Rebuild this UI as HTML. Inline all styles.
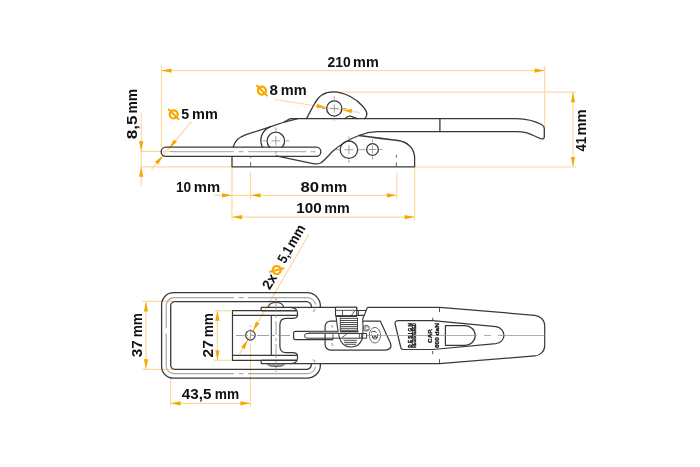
<!DOCTYPE html>
<html><head><meta charset="utf-8">
<style>
html,body{margin:0;padding:0;background:#fff;}
body{width:700px;height:467px;overflow:hidden;}
svg{display:block;will-change:transform;}
text{font-family:"Liberation Sans",sans-serif;font-weight:bold;fill:#111;}
</style></head><body>
<svg width="700" height="467" viewBox="0 0 700 467">

<!-- ============ ORANGE DIMENSION LINES (side view) ============ -->
<g stroke="#fcd9a2" stroke-width="1.2" fill="none">
 <!-- 210 -->
 <line x1="161.5" y1="66" x2="161.5" y2="147"/>
 <line x1="161.5" y1="70.6" x2="544.6" y2="70.6"/>
 <line x1="544.6" y1="66" x2="544.6" y2="128"/>
 <!-- 41 -->
 <line x1="333" y1="92.2" x2="576.5" y2="92.2"/>
 <line x1="414.6" y1="167" x2="576.5" y2="167"/>
 <line x1="573" y1="92.2" x2="573" y2="167"/>
 <!-- 8,5 -->
 <line x1="140" y1="151.3" x2="175" y2="151.3"/>
 <line x1="140" y1="166.8" x2="232" y2="166.8"/>
 <line x1="141.2" y1="112.5" x2="141.2" y2="185.5"/>
 <!-- 5 mm leader -->
 <line x1="191.5" y1="121.5" x2="151.5" y2="169.3"/>
 <!-- 8 mm leader -->
 <line x1="274.5" y1="99.5" x2="360" y2="112.6"/>
 <!-- 10/80/100 -->
 <line x1="232" y1="167" x2="232" y2="220.5"/>
 <line x1="250.5" y1="172" x2="250.5" y2="199.5"/>
 <line x1="396.8" y1="172.5" x2="396.8" y2="198.5"/>
 <line x1="414.6" y1="167" x2="414.6" y2="220.5"/>
 <line x1="214" y1="195.3" x2="396.8" y2="195.3"/>
 <line x1="232" y1="217.1" x2="414.6" y2="217.1"/>
</g>
<g>
 <path d="M0,0 L-10,-2.1 L-10,2.1 Z" fill="#f6a800" transform="translate(544.6,70.6)"/>
 <path d="M0,0 L-10,-2.1 L-10,2.1 Z" fill="#f6a800" transform="translate(161.5,70.6) rotate(180)"/>
 <path d="M0,0 L-10,-2.1 L-10,2.1 Z" fill="#f6a800" transform="translate(573,92.2) rotate(-90)"/>
 <path d="M0,0 L-10,-2.1 L-10,2.1 Z" fill="#f6a800" transform="translate(573,167) rotate(90)"/>
 <path d="M0,0 L-10,-2.1 L-10,2.1 Z" fill="#f6a800" transform="translate(141.2,151.3) rotate(90)"/>
 <path d="M0,0 L-10,-2.1 L-10,2.1 Z" fill="#f6a800" transform="translate(141.2,166.8) rotate(-90)"/>
 <path d="M0,0 L-10,-2.1 L-10,2.1 Z" fill="#f6a800" transform="translate(232,195.3)"/>
 <path d="M0,0 L-10,-2.1 L-10,2.1 Z" fill="#f6a800" transform="translate(250.5,195.3) rotate(180)"/>
 <path d="M0,0 L-10,-2.1 L-10,2.1 Z" fill="#f6a800" transform="translate(396.8,195.3)"/>
 <path d="M0,0 L-10,-2.1 L-10,2.1 Z" fill="#f6a800" transform="translate(232,217.1) rotate(180)"/>
 <path d="M0,0 L-10,-2.1 L-10,2.1 Z" fill="#f6a800" transform="translate(414.6,217.1)"/>
 <path d="M0,0 L-10,-2.1 L-10,2.1 Z" fill="#f6a800" transform="translate(169,148.4) rotate(129.9)"/>
 <path d="M0,0 L-10,-2.1 L-10,2.1 Z" fill="#f6a800" transform="translate(163.05,155.5) rotate(-50.1)"/>
 <path d="M0,0 L-10,-2.1 L-10,2.1 Z" fill="#f6a800" transform="translate(326.6,107.4) rotate(8.7)"/>
 <path d="M0,0 L-10,-2.1 L-10,2.1 Z" fill="#f6a800" transform="translate(342,109.7) rotate(188.7)"/>
</g>

<!-- ============ SIDE VIEW DRAWING ============ -->
<g stroke="#383838" stroke-width="1.3" fill="none" stroke-linejoin="round" stroke-linecap="round">
 <!-- rod -->
 <path d="M165.8,147.1 H316.2 A4.65,4.65 0 0 1 316.2,156.4 H165.8 A4.65,4.65 0 0 1 165.8,147.1 Z"/>
 <!-- base plate -->
 <path d="M232,156.4 V166.8 H414.6 V157 C414,148 407,141.5 398,140.5 C385,139 370,137 359,135.5"/>
 <!-- hook body left -->
 <path d="M233.2,147.1 C235,140 239,137.5 246,134.7 L270,126.8 L283,122.5 C286.5,121 288.5,118.9 291,118.6"/>
 <path d="M284.3,122.2 L297.9,118.6"/>
 <!-- pivot boss -->
 <path d="M262.4,147.1 A14.8,14.8 0 0 1 270,126.8"/>
 <path d="M269.65,147.1 A8.75,8.75 0 1 1 282.05,147.1"/>
 <!-- lever -->
 <path d="M291,118.6 H516 C526,118.8 536,121.5 541.5,124.5 C543.5,125.6 544.3,126.8 544.3,128.5 V137 C544.3,138.5 543,139.2 541.5,138.8 C538,138 533,135 527,132.8 C523,131.8 520,131.6 516,131.6 H377 C370,131.8 364,133.5 359,135.5 C348,139.5 340,145 333,151 C328,156 324,161 320.5,163 C318.5,164.2 316.5,164.3 313,163.6 L276.2,155.9"/>
 <path d="M439.9,118.6 V131.6"/>
 <!-- top link -->
 <path d="M306.5,118.6 L314,104.5 C317,98.5 323,91.8 333,91.8 C345,91.8 357,99.5 363,106.5 C366,110 367,112.5 366.8,114.5 C366.6,116.5 365.5,118 364.6,118.6"/>
 <circle cx="334.3" cy="108.5" r="7.6"/>
 <path d="M344.7,118.6 C346.5,117.5 348,116.1 349.5,116.1 C352,116.1 354.5,118 357.6,118.6"/>
 <!-- lower circles -->
 <circle cx="348.9" cy="149.7" r="8.7"/>
 <circle cx="372.5" cy="149.5" r="5.85"/>
</g>
<!-- centerlines side view -->
<g stroke="#8c8c8c" stroke-width="0.8" fill="none">
 <path d="M170,151.7 H233.8 M238.7,151.7 H243.5 M248,151.7 H306.5 M310.5,151.7 H315.5"/>
 <path d="M271.25,140.85 H280.45 M275.85,136.25 V145.45 M285.90,140.85 L289.20,140.85 M265.80,140.85 L262.50,140.85 M275.85,150.90 L275.85,154.20 M275.85,130.80 L275.85,127.50 M330.10,108.5 H338.50 M334.3,104.30 V112.70 M343.20,108.50 L346.50,108.50 M325.40,108.50 L322.10,108.50 M334.30,117.40 L334.30,120.70 M334.30,99.60 L334.30,96.30 M344.30,149.7 H353.50 M348.9,145.10 V154.30 M358.90,149.70 L362.20,149.70 M338.90,149.70 L335.60,149.70 M348.90,159.70 L348.90,163.00 M348.90,139.70 L348.90,136.40 M368.70,149.5 H376.30 M372.5,145.70 V153.30 M379.55,149.50 L382.55,149.50 M365.45,149.50 L362.45,149.50 M372.50,156.55 L372.50,159.55 M372.50,142.45 L372.50,139.45"/>
</g>
<g stroke="#555" stroke-width="0.9" fill="none" stroke-dasharray="5,3,1,3">
 <path d="M250.6,156.3 V158 M250.6,162.2 V167"/>
 <path d="M396.4,154.9 V157.8 M396.4,162.4 V167"/>
</g>

<!-- labels side view -->
<g transform="translate(173.7,114.4)">
 <circle cx="0" cy="0" r="3.95" fill="none" stroke="#f8a900" stroke-width="2.3"/>
 <line x1="-4.9" y1="-4.9" x2="4.9" y2="4.9" stroke="#f8a900" stroke-width="2" stroke-linecap="round"/>
</g>
<g transform="translate(261.9,90.6)">
 <circle cx="0" cy="0" r="3.95" fill="none" stroke="#f8a900" stroke-width="2.3"/>
 <line x1="-4.9" y1="-4.9" x2="4.9" y2="4.9" stroke="#f8a900" stroke-width="2" stroke-linecap="round"/>
</g>

<!-- ============ PLAN VIEW: dimensions ============ -->
<g stroke="#fcd9a2" stroke-width="1.2" fill="none">
 <line x1="142.5" y1="301.4" x2="174.6" y2="301.4"/>
 <line x1="142.5" y1="369.3" x2="174.6" y2="369.3"/>
 <line x1="146" y1="301.4" x2="146" y2="369.3"/>
 <line x1="214.5" y1="310.7" x2="232.5" y2="310.7"/>
 <line x1="214.5" y1="360.3" x2="232.5" y2="360.3"/>
 <line x1="217.4" y1="310.7" x2="217.4" y2="360.3"/>
 <line x1="170.6" y1="378.5" x2="170.6" y2="406.5"/>
 <line x1="250.4" y1="344" x2="250.4" y2="406.5"/>
 <line x1="170.6" y1="403.3" x2="250.4" y2="403.3"/>
 <line x1="308.8" y1="234.45" x2="239.5" y2="354.1"/>
</g>
<g>
 <path d="M0,0 L-10,-2.1 L-10,2.1 Z" fill="#f6a800" transform="translate(146,301.4) rotate(-90)"/>
 <path d="M0,0 L-10,-2.1 L-10,2.1 Z" fill="#f6a800" transform="translate(146,369.3) rotate(90)"/>
 <path d="M0,0 L-10,-2.1 L-10,2.1 Z" fill="#f6a800" transform="translate(217.4,310.7) rotate(-90)"/>
 <path d="M0,0 L-10,-2.1 L-10,2.1 Z" fill="#f6a800" transform="translate(217.4,360.3) rotate(90)"/>
 <path d="M0,0 L-10,-2.1 L-10,2.1 Z" fill="#f6a800" transform="translate(170.6,403.3) rotate(180)"/>
 <path d="M0,0 L-10,-2.1 L-10,2.1 Z" fill="#f6a800" transform="translate(250.4,403.3)"/>
 <path d="M0,0 L-10,-2.1 L-10,2.1 Z" fill="#f6a800" transform="translate(252.8,331.15) rotate(120.07)"/>
 <path d="M0,0 L-10,-2.1 L-10,2.1 Z" fill="#f6a800" transform="translate(248,339.45) rotate(-59.93)"/>
</g>
<g transform="translate(269.8,290.6) rotate(-60)">
 <text x="0" y="0" font-size="14" textLength="15.5" lengthAdjust="spacingAndGlyphs">2x</text>
 <g transform="translate(21.3,-4.3)">
 <circle cx="0" cy="0" r="3.95" fill="none" stroke="#f8a900" stroke-width="2.3"/>
 <line x1="-4.9" y1="-4.9" x2="4.9" y2="4.9" stroke="#f8a900" stroke-width="2" stroke-linecap="round"/>
</g>
 <text x="30.4" y="0" font-size="14" textLength="17" lengthAdjust="spacingAndGlyphs">5,1</text>
 <text x="48.5" y="0" font-size="14" textLength="23.7" lengthAdjust="spacingAndGlyphs">mm</text>
</g>

<!-- dimension labels -->
<text x="327.48" y="66.6" font-size="14" textLength="23.15" lengthAdjust="spacingAndGlyphs">210</text><text x="353.09" y="66.6" font-size="14" textLength="25.65" lengthAdjust="spacingAndGlyphs">mm</text>
<text x="175.98" y="191.5" font-size="14" textLength="15.20" lengthAdjust="spacingAndGlyphs">10</text><text x="193.76" y="191.5" font-size="14" textLength="26.30" lengthAdjust="spacingAndGlyphs">mm</text>
<text x="300.50" y="191.5" font-size="14" textLength="18.61" lengthAdjust="spacingAndGlyphs">80</text><text x="320.87" y="191.5" font-size="14" textLength="26.19" lengthAdjust="spacingAndGlyphs">mm</text>
<text x="296.39" y="212.8" font-size="14" textLength="25.40" lengthAdjust="spacingAndGlyphs">100</text><text x="324.20" y="212.8" font-size="14" textLength="25.44" lengthAdjust="spacingAndGlyphs">mm</text>
<text x="181.37" y="118.9" font-size="14" textLength="7.90" lengthAdjust="spacingAndGlyphs">5</text><text x="192.09" y="118.9" font-size="14" textLength="25.76" lengthAdjust="spacingAndGlyphs">mm</text>
<text x="269.64" y="95.4" font-size="14" textLength="8.45" lengthAdjust="spacingAndGlyphs">8</text><text x="280.88" y="95.4" font-size="14" textLength="25.87" lengthAdjust="spacingAndGlyphs">mm</text>
<text x="181.69" y="399.0" font-size="14" textLength="29.71" lengthAdjust="spacingAndGlyphs">43,5</text><text x="214.84" y="399.0" font-size="14" textLength="24.36" lengthAdjust="spacingAndGlyphs">mm</text>
<g transform="translate(586.1,0) rotate(-90)"><text x="-151.46" y="0" font-size="14" textLength="14.59" lengthAdjust="spacingAndGlyphs">41</text><text x="-135.64" y="0" font-size="14" textLength="26.41" lengthAdjust="spacingAndGlyphs">mm</text></g>
<g transform="translate(137.4,0) rotate(-90)"><text x="-139.31" y="0" font-size="14" textLength="23.83" lengthAdjust="spacingAndGlyphs">8,5</text><text x="-113.47" y="0" font-size="14" textLength="24.68" lengthAdjust="spacingAndGlyphs">mm</text></g>
<g transform="translate(142.1,0) rotate(-90)"><text x="-357.31" y="0" font-size="14" textLength="17.06" lengthAdjust="spacingAndGlyphs">37</text><text x="-337.25" y="0" font-size="14" textLength="24.25" lengthAdjust="spacingAndGlyphs">mm</text></g>
<g transform="translate(213.4,0) rotate(-90)"><text x="-357.46" y="0" font-size="14" textLength="17.22" lengthAdjust="spacingAndGlyphs">27</text><text x="-337.25" y="0" font-size="14" textLength="24.25" lengthAdjust="spacingAndGlyphs">mm</text></g>

<!-- ============ PLAN VIEW: frame (shackle) ============ -->
<g fill="none" stroke-linejoin="round">
 <path d="M320.4,307.3 V306 A13.3,13.3 0 0 0 307.1,292.7 H173.6 A12,12 0 0 0 161.6,304.7 V366.2 A12,12 0 0 0 173.6,378.2 H307.1 A13.3,13.3 0 0 0 320.4,364.9 V363.5" stroke="#383838" stroke-width="1.3"/>
 <path d="M307,297.7 H248 M243.6,297.7 H238.8 M234,297.7 H174 A7.8,7.8 0 0 0 166.2,305.5 V327.8 M166.2,333.4 V365.9 A7.8,7.8 0 0 0 174,373.7 H234 M238.9,373.7 H243.4 M248,373.7 H307 M307,297.7 A9,9 0 0 1 315.6,304.6 M315.3,309.2 L313,311.8 M307,373.7 A9,9 0 0 0 315.6,366.8 M315.3,362 L313,359.4" stroke="#a8a8a8" stroke-width="1.2"/>
 <path d="M311.4,307.3 V306.7 A5,5 0 0 0 306.4,301.7 H175 A4.3,4.3 0 0 0 170.7,306 V365.1 A4.3,4.3 0 0 0 175,369.4 H306.4 A5,5 0 0 0 311.4,364.4 V363.5" stroke="#383838" stroke-width="1.3"/>
</g>

<!-- ============ PLAN VIEW: latch body ============ -->
<g stroke="#383838" stroke-width="1.2" fill="none" stroke-linejoin="round">
 <path d="M261.2,307.3 H356.7 V310.5 M367.5,307.3 H439.5 L534.7,315.3 C540,315.8 544.7,320 544.7,325.6 V346.1 C544.7,351.5 540,355.5 534.7,355.9 L439.5,363.6 H261.2"/>
 <!-- hinge block -->
 <path d="M261.2,307.3 V310.7 M261.2,360.3 V363.6"/>
 <path d="M261.2,310.7 H232.5 V360.3 H261.2"/>
 <path d="M290,307.3 C295.5,307.5 297.5,310 297.5,313 V315.5 C297.5,317.5 295.5,318.3 292.5,318.3 H286 C282,318.3 279.9,321 279.9,325 V346 C279.9,350 282,352.6 286,352.6 H292.5 C295.5,352.6 297.5,354 297.5,356 V358 C297.5,361 295.5,363.5 290,363.6"/>
 <path d="M232.5,315.3 H297.5 M232.5,355.4 H297.5"/>
 <path d="M261.2,310.8 H296.6 M261.2,360.2 H296.6" stroke-width="1.4"/>
 <path d="M271.3,315.3 V355.4"/>
 <path d="M268.3,307.3 C269,304 272,302.5 276,302.5 C280,302.5 283,304 283.7,307.3"/>
 <circle cx="250.4" cy="335.3" r="4.8"/>
 <path d="M267.4,363.8 C268,365.6 270,366.4 276,366.4 C282,366.4 284,365.6 284.6,363.8 Z" fill="#b0b0b0" stroke-width="0.9"/>
 <!-- rod in plan -->
 <path d="M295.5,331.3 H340 M295.5,339.6 H333 M295.5,331.3 A1.9,1.9 0 0 0 293.6,333.2 V337.7 A1.9,1.9 0 0 0 295.5,339.6"/>
 <!-- inner panel -->
 <path d="M330.5,321.1 H380.3 L390.6,343.6 C392,348 389,350.1 385,350.1 H330.5 A5.4,5.4 0 0 1 325.1,344.7 V326.5 A5.4,5.4 0 0 1 330.5,321.1 Z"/>
 <!-- label recess -->
 <path d="M398.5,320.6 H432.7 L496,326.6 C500.5,327.2 504,331 504,335.2 C504,339.5 500.5,343 496,343.7 L432.7,349.5 H403.5 C402,349.5 401.2,349 400.9,348 L395,323.5 C394.6,321.8 396,320.6 398.5,320.6 Z"/>
 <!-- slot -->
 <path d="M445.4,325.6 H465 C470.7,325.6 475.2,330 475.2,335.5 C475.2,341 470.7,345.4 465,345.4 H445.4 Z"/>
</g>
<!-- spring assembly -->
<g stroke="#383838" stroke-width="1.1" fill="none" stroke-linejoin="round">
 <path d="M336,315.8 C337,325 338,335 340.5,340.5 C343,345.5 347,347 351,347 C356,347 360,344.5 362,339.5 C363.6,334 363,324 362.7,319 L367.5,307.3" fill="#fff"/>
 <path d="M335.5,307.3 H356.7 V315.8 H335.5 Z" fill="#fff"/>
 <path d="M335.5,310.4 H356.7 M342.5,310.4 V315.8 M351.2,315.8 L355,310.4" stroke-width="0.8"/>
 <path d="M356.7,310.5 H366.2 M356.7,315.4 H364.3 M358.3,310.5 V315.4"/>
 <path d="M336,316.2 H357" stroke-width="1.6"/>
 <path d="M340.3,317.5 V331 M357.5,317.5 V331" stroke-width="0.9"/>
 <path d="M340,331.6 H358.5" stroke-width="1.6"/>
 <path d="M306.9,333.5 H366.6 V338.2 H306.9 M306.9,333.5 A2.3,2.3 0 0 0 306.9,338.2" stroke-width="1"/>
 <path d="M359.4,333.5 V338.2 M361.4,333.5 V338.2 M333,333.5 V339.5" stroke-width="0.8"/>
 <path d="M342,337.5 L347.4,333.6" stroke-width="0.8"/>
 <circle cx="366.4" cy="328.2" r="2.9" stroke-width="0.9"/>
 <path d="M367.6,327 A1.5,1.5 0 1 0 367.6,329.4" stroke-width="0.7"/>
 <ellipse cx="374.9" cy="335.2" rx="5.6" ry="7.8" stroke="#6a6a6a" stroke-width="1"/>
 <path d="M371,332.5 C372.5,331 375,331 376.5,332.5 M371.5,334.5 L373.5,338.5 L375,335 L376.5,338.5 L378,334 M372,337 C374,339.5 376,339.5 377.5,337.5" stroke-width="1"/>
</g>
<g stroke="#383838" stroke-width="0.9">
 <line x1="340.3" y1="318.4" x2="357.5" y2="318.4"/>
 <line x1="340.3" y1="320.5" x2="357.5" y2="320.5"/>
 <line x1="340.3" y1="322.5" x2="357.5" y2="322.5"/>
 <line x1="340.3" y1="324.5" x2="357.5" y2="324.5"/>
 <line x1="340.3" y1="326.4" x2="357.5" y2="326.4"/>
 <line x1="340.3" y1="328.3" x2="357.5" y2="328.3"/>
 <line x1="340.3" y1="330.2" x2="357.5" y2="330.2"/>
 <line x1="343.5" y1="340.3" x2="357" y2="340.3"/>
 <line x1="344" y1="342.4" x2="357" y2="342.4"/>
 <line x1="345" y1="344.3" x2="356" y2="344.3"/>
</g>
<rect x="308" y="331.6" width="31" height="1.8" fill="#9a9a9a"/>
<!-- plan centerlines -->
<g stroke="#8c8c8c" stroke-width="0.8" fill="none">
 <line x1="236" y1="335.5" x2="293" y2="335.5" stroke-dasharray="12,3,3,3"/>
 <path d="M367,335.5 H477 M484,335.5 H491 M498,335.5 H544.5" stroke="#999" stroke-width="0.8"/>
 <line x1="276" y1="298" x2="276" y2="372" stroke-dasharray="14,3,3,3"/>
 <path d="M250.4,325.6 V326.8 M250.4,329 V341"/>
</g>
<g stroke="#444" stroke-width="0.9" fill="none">
 <path d="M439.5,307.5 V312 M439.5,359.2 V363.5 M432.7,317.7 V321 M432.7,351 V354.2"/>
 <path d="M332.2,325 V327.8 M332.2,343 V345.8" stroke="#888"/>
</g>
<!-- label texts -->
<g fill="#1a1a1a" stroke="#1a1a1a" stroke-width="0.35">
 <text transform="translate(411.6,347.8) rotate(-90)" font-size="4.6" textLength="24.6" lengthAdjust="spacing">DESIGN</text>
 <text transform="translate(416.3,347.8) rotate(-90)" font-size="4.8" textLength="24.6" lengthAdjust="spacingAndGlyphs">REGISTERED</text>
 <text transform="translate(431.8,342.9) rotate(-90)" font-size="6" textLength="14.2" lengthAdjust="spacingAndGlyphs">CAP.</text>
 <text transform="translate(438.6,348) rotate(-90)" font-size="6" textLength="24.8" lengthAdjust="spacingAndGlyphs">600 daN</text>
</g>
</svg>
</body></html>
